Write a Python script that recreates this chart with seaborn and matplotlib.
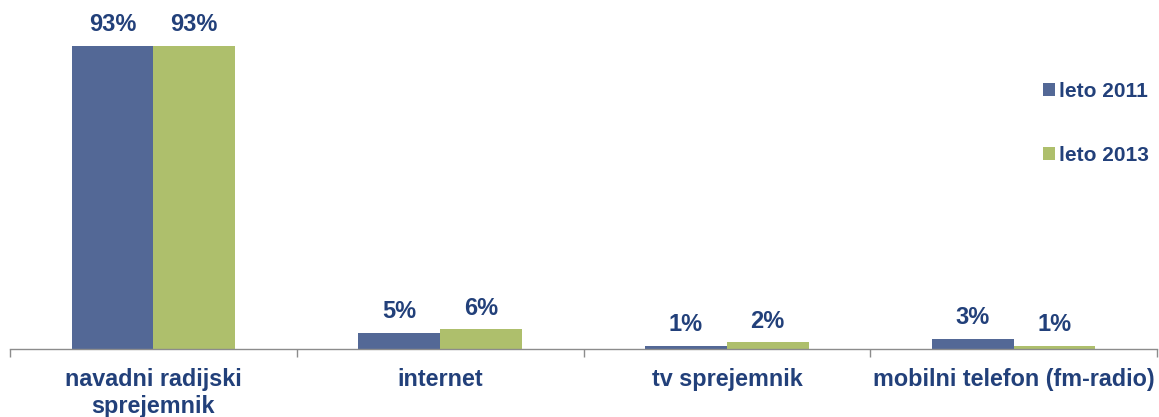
import matplotlib
matplotlib.use("Agg")
import matplotlib.pyplot as plt
import seaborn as sns
import pandas as pd
import numpy as np

categories = ["navadni radijski\nsprejemnik", "internet", "tv sprejemnik", "mobilni telefon (fm-radio)"]
series_names = ["leto 2011", "leto 2013"]
values_2011 = [93, 5, 1, 3]
values_2013 = [93, 6, 2, 1]
colors = ["#536896", "#AEBF6C"]
text_color = "#22407A"

sns.set_theme(style="white")
plt.rcParams["font.family"] = ["Liberation Sans", "DejaVu Sans"]

df = pd.DataFrame({
    "category": categories * 2,
    "series": [series_names[0]] * 4 + [series_names[1]] * 4,
    "value": values_2011 + values_2013,
})

fig = plt.figure(figsize=(11.59, 4.17), dpi=100)
ax = fig.add_axes([10 / 1159, 68 / 417, 1147 / 1159, 326 / 417])

sns.barplot(data=df, x="category", y="value", hue="series", palette=colors,
            width=0.57, gap=0, saturation=1, ax=ax, legend=True, linewidth=0)

for cont in ax.containers:
    ax.bar_label(cont, labels=[f"{int(v)}%" for v in cont.datavalues], padding=7,
                 fontsize=17, fontweight="bold", color=text_color)

ax.set_xlim(-0.5, 3.5)
ax.set_ylim(0, 100)
ax.set_xlabel("")
ax.set_ylabel("")
ax.set_yticks([])
for s in ["top", "right", "left"]:
    ax.spines[s].set_visible(False)
ax.spines["bottom"].set_color("#8C8C8C")
ax.spines["bottom"].set_linewidth(1)

ax.set_xticks(np.arange(-0.5, 4, 1), minor=True)
ax.tick_params(axis="x", which="minor", length=6, color="#8C8C8C", width=1, bottom=True, direction="out")
ax.tick_params(axis="x", which="major", length=0, pad=14)
for lbl in ax.get_xticklabels():
    lbl.set_fontsize(16.8)
    lbl.set_fontweight("bold")
    lbl.set_color(text_color)
    lbl.set_linespacing(1.2)

leg = ax.legend(loc="upper left", bbox_to_anchor=(1024 / 1159, 1 - 63 / 417),
                bbox_transform=fig.transFigure, frameon=False,
                handlelength=0.6, handleheight=0.6, handletextpad=0.2,
                labelspacing=2.15, fontsize=15)
for t in leg.get_texts():
    t.set_fontweight("bold")
    t.set_color(text_color)

fig.savefig("out.png", dpi=100)
